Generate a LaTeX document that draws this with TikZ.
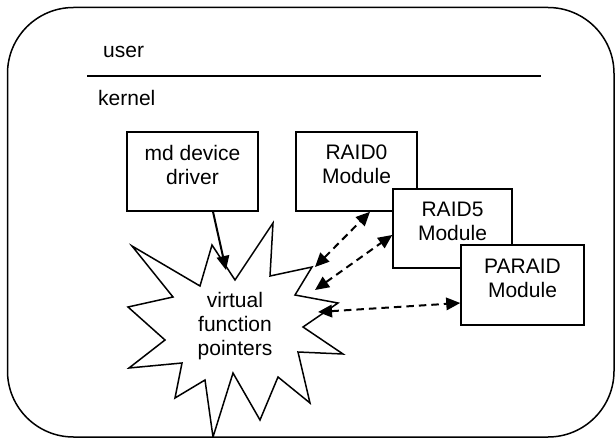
\documentclass[tikz,border=0pt]{standalone}
\usepackage{fontspec}
\setmainfont{Liberation Sans}
\usetikzlibrary{arrows.meta}
\begin{document}
\begin{tikzpicture}[x=1pt,y=-1pt,
  txt/.style={font=\fontsize{21}{24}\selectfont, align=center, inner sep=0pt},
  modbox/.style={draw, line width=1.5pt, fill=white, inner sep=0pt},
  tip/.style={-{Triangle[length=14pt,width=12.5pt]}},
  biarrow/.style={{Triangle[length=14pt,width=12.5pt]}-{Triangle[length=14pt,width=12.5pt]},
    line width=2pt, dash pattern=on 7.5pt off 5pt},
  solidarrow/.style={tip, line width=2pt}]
\useasboundingbox (0,0) rectangle (615,438);
% outer frame
\draw[line width=1.5pt, rounded corners=66pt] (7.5,7.5) rectangle (614,437);
% user / kernel boundary
\node[txt, anchor=base west] (user) at (103,58) {user};
\draw[line width=2.7pt] (87,76) -- (541,76);
\node[txt, anchor=base west] (kernel) at (98,106) {kernel};
% boxes
\node[modbox, minimum width=131pt, minimum height=79pt] (md) at (192.5,171.5) {};
\node[txt] (mdtxt) at ([yshift=7pt]md.center) {md device\\driver};
\node[modbox, minimum width=121pt, minimum height=79pt] (r0) at (356.5,171.5) {};
\node[txt] (r0txt) at ([yshift=7pt]r0.center) {RAID0\\Module};
\node[modbox, minimum width=119pt, minimum height=79pt] (r5) at (452.5,228.5) {};
\node[txt] (r5txt) at ([yshift=7pt]r5.center) {RAID5\\Module};
\node[modbox, minimum width=123pt, minimum height=80pt] (pa) at (522.5,285) {};
\node[txt] (patxt) at ([yshift=7pt]pa.center) {PARAID\\Module};
% starburst
\draw[line width=1.5pt, fill=white, line join=miter]
  (273,223) -- (270,276) -- (312,267) -- (295,295) -- (338,303) -- (303,327)
  -- (343,354) -- (298,352) -- (310,403) -- (278,377) -- (260,420) -- (233,373)
  -- (213,437) -- (205,380) -- (175,398) -- (182,363) -- (129,368) -- (165,340)
  -- (128,307) -- (173,297) -- (132,246) -- (200,286) -- (212,245) -- (235,280)
  -- cycle;
\node[txt] (vfp) at (235,326) {virtual\\function\\pointers};
% arrow ends on the starburst
\coordinate (sMd) at (226,270);
\coordinate (sR0) at (315,267);
\coordinate (sR5) at (315,290);
\coordinate (sPa) at (318,312);
% connectors
\draw[solidarrow] ([xshift=20.5pt]md.south) -- (sMd);
\draw[biarrow] (sR0) -- ([xshift=13.5pt]r0.south);
\draw[biarrow] (sR5) -- ([yshift=-6.5pt]r5.west);
\draw[biarrow] (sPa) -- ([yshift=-18pt]pa.west);
\end{tikzpicture}
\end{document}
